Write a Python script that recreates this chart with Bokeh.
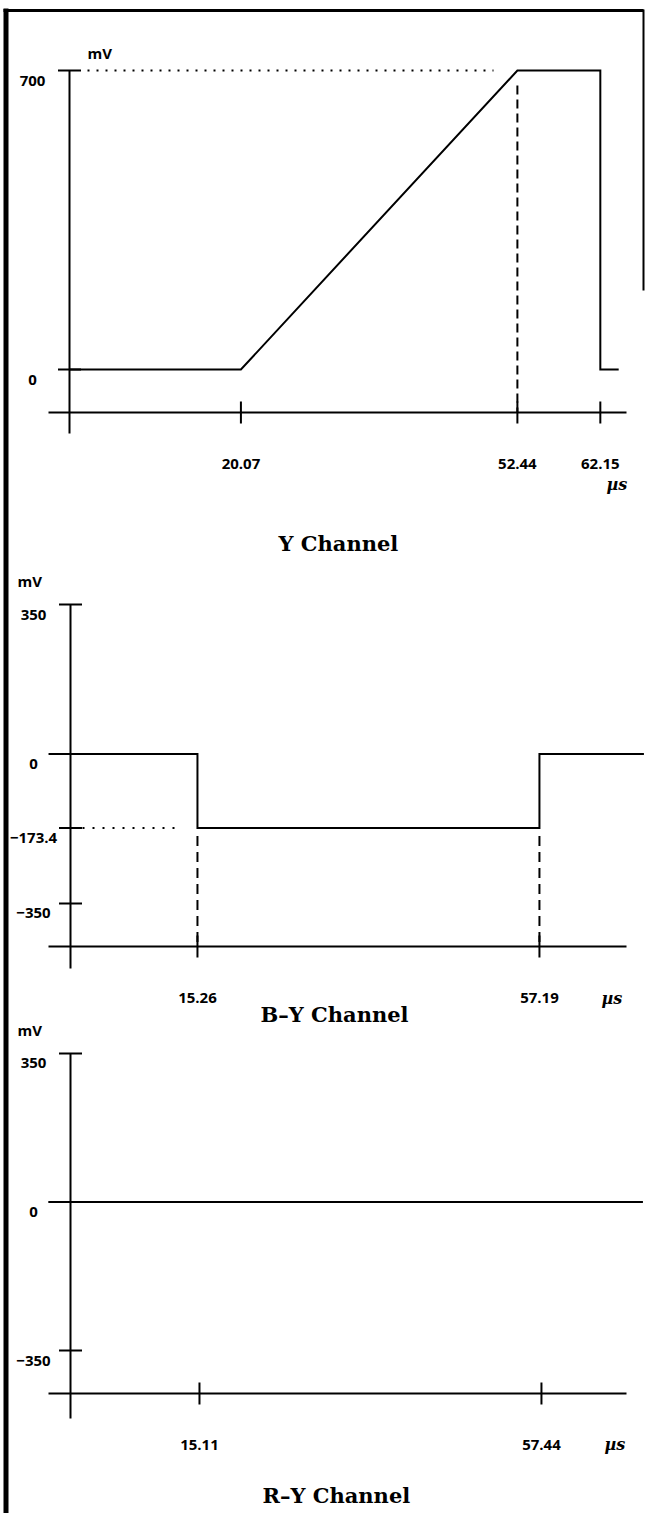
import numpy as np
from bokeh.plotting import figure
from bokeh.models import Range1d
from bokeh.core.properties import value
from bokeh.embed import file_html
from bokeh.resources import INLINE

# ---------------- data ----------------
y_unit = "mV"
t_unit = "µs"

# Y channel
y_title = "Y Channel"
y_t = [0.0, 20.07, 52.44, 62.15, 62.15, 64.3]
y_mv = [0, 0, 700, 700, 0, 0]
y_xticks = [20.07, 52.44, 62.15]
y_yticks = [700, 0]

# B-Y channel
by_title = "B–Y Channel"
by_t = [-3.0, 15.26, 15.26, 57.19, 57.19, 70.0]
by_mv = [0, 0, -173.4, -173.4, 0, 0]
by_xticks = [15.26, 57.19]
by_yticks = [350, 0, -173.4, -350]

# R-Y channel
ry_title = "R–Y Channel"
ry_t = [-3.6, 70.0]
ry_mv = [0, 0]
ry_xticks = [15.11, 57.44]
ry_yticks = [350, 0, -350]

# ---------------- layout (page pixels) ----------------
W, H = 647, 1513
LABEL_FONT = value("Open Sans")
TITLE_FONT = value("DejaVu Serif")
INK = "black"

p = figure(width=W, height=H,
           x_range=Range1d(0, W), y_range=Range1d(H, 0),
           x_axis_type=None, y_axis_type=None,
           output_backend="svg", toolbar_location=None,
           min_border=0, outline_line_color=None,
           background_fill_color="white", border_fill_color="white")

# page frame (drawn in page pixel space of the default ranges)
p.segment(x0=[5.5], y0=[8], x1=[5.5], y1=[H], line_width=5, line_color=INK)
p.segment(x0=[3], y0=[10], x1=[643], y1=[10], line_width=3, line_color=INK)
p.segment(x0=[643], y0=[9], x1=[643], y1=[290], line_width=2, line_color=INK)


class Panel:
    def __init__(s, name, x0, xs, y0, ys, ax_X, ax_Y, ybot_Y):
        s.name, s.x0, s.xs, s.y0, s.ys = name, x0, xs, y0, ys
        s.ax_X, s.ax_Y, s.ybot_Y = ax_X, ax_Y, ybot_Y
        s.xr, s.yr = name + "_x", name + "_y"
        p.extra_x_ranges[s.xr] = Range1d(s.t(0), s.t(W))
        p.extra_y_ranges[s.yr] = Range1d(s.v(H), s.v(0))
        s.kw = dict(x_range_name=s.xr, y_range_name=s.yr)

    def t(s, X):
        return (X - s.x0) / s.xs

    def v(s, Y):
        return (s.y0 - Y) / s.ys

    def Y(s, v):
        return s.y0 - v * s.ys


def draw_common(P, sig_t, sig_v, xticks, yticks, title,
                unit_dx, unit_dy, tu_X, tu_Y, title_X, title_Y):
    kw = P.kw
    ax_t = P.t(P.ax_X)
    ax_v = P.v(P.ax_Y)
    # y axis line
    p.segment(x0=[ax_t], y0=[max(yticks)], x1=[ax_t], y1=[P.v(P.ybot_Y)],
              line_width=2, line_color=INK, **kw)
    # x axis line
    p.segment(x0=[P.t(48)], y0=[ax_v], x1=[P.t(626)], y1=[ax_v],
              line_width=2, line_color=INK, **kw)
    # ticks
    p.scatter(xticks, [ax_v] * len(xticks), marker="dash", angle=np.pi / 2,
              size=22, line_width=2, line_color=INK, **kw)
    p.scatter([ax_t] * len(yticks), yticks, marker="dash",
              size=23, line_width=2, line_color=INK, **kw)
    # tick labels
    p.text(xticks, [ax_v] * len(xticks), text=[f"{x:.2f}" for x in xticks],
           text_align="center", text_baseline="alphabetic", y_offset=51,
           text_font=LABEL_FONT, text_font_style="bold",
           text_font_size="15px", text_color=INK, **kw)
    p.text([ax_t] * len(yticks), yticks,
           text=[f"{v:g}".replace("-", "−") for v in yticks],
           text_align="center", text_baseline="alphabetic",
           x_offset=-37, y_offset=10,
           text_font=LABEL_FONT, text_font_style="bold",
           text_font_size="15px", text_color=INK, **kw)
    # unit labels
    p.text([ax_t], [max(yticks)], text=[y_unit], x_offset=unit_dx, y_offset=unit_dy,
           text_align="left", text_baseline="alphabetic",
           text_font=LABEL_FONT, text_font_style="bold",
           text_font_size="15px", text_color=INK, **kw)
    p.text([P.t(tu_X)], [P.v(tu_Y)], text=[t_unit],
           text_align="left", text_baseline="alphabetic",
           text_font=value("DejaVu Serif"), text_font_style="bold italic",
           text_font_size="16px", text_color=INK, **kw)
    # title
    p.text([P.t(title_X)], [P.v(title_Y)], text=[title],
           text_align="left", text_baseline="alphabetic",
           text_font=TITLE_FONT, text_font_style="bold",
           text_font_size="21px", text_color=INK, **kw)
    # signal
    p.line(sig_t, sig_v, line_width=2, line_color=INK, line_join="miter", **kw)


# ---------------- panel 1 : Y ----------------
P1 = Panel("p1", x0=69, xs=8.541, y0=369, ys=0.42714,
           ax_X=69, ax_Y=412, ybot_Y=433)
draw_common(P1, y_t, y_mv, y_xticks, y_yticks, y_title,
            unit_dx=18, unit_dy=-18, tu_X=606, tu_Y=484, title_X=278, title_Y=543)
top_level = max(y_mv)
p.line([P1.t(87), P1.t(493)], [top_level, top_level],
       line_width=2, line_dash="2 7", line_color=INK, **P1.kw)
p.segment(x0=[y_xticks[1]], y0=[P1.v(P1.Y(top_level) + 15)],
          x1=[y_xticks[1]], y1=[P1.v(P1.ax_Y)],
          line_width=2, line_dash="9 5", line_color=INK, **P1.kw)

# ---------------- panel 2 : B-Y ----------------
P2 = Panel("p2", x0=72.5, xs=8.156, y0=753.5, ys=0.42714,
           ax_X=70, ax_Y=946, ybot_Y=968)
draw_common(P2, by_t, by_mv, by_xticks, by_yticks, by_title,
            unit_dx=-53, unit_dy=-24, tu_X=601, tu_Y=998, title_X=260, title_Y=1014)
low = min(by_mv)
p.line([P2.t(82), P2.t(178)], [low, low],
       line_width=2, line_dash="2 8", line_color=INK, **P2.kw)
p.segment(x0=by_xticks, y0=[P2.v(P2.Y(low) + 8)] * 2,
          x1=by_xticks, y1=[P2.v(P2.ax_Y)] * 2,
          line_width=2, line_dash="10 6", line_color=INK, **P2.kw)

# ---------------- panel 3 : R-Y ----------------
P3 = Panel("p3", x0=76.9, xs=8.079, y0=1201.5, ys=0.4243,
           ax_X=70, ax_Y=1393, ybot_Y=1418)
draw_common(P3, ry_t, ry_mv, ry_xticks, ry_yticks, ry_title,
            unit_dx=-53, unit_dy=-23, tu_X=604, tu_Y=1444, title_X=262, title_Y=1495)

open("out.html", "w").write(file_html(p, INLINE))
